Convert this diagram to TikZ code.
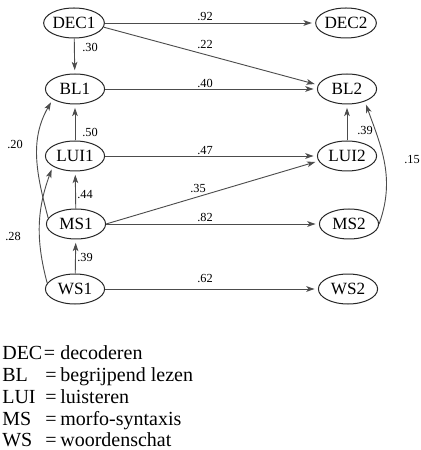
\documentclass[tikz,border=0pt]{standalone}
\usepackage{fontspec}
\setmainfont{Liberation Serif}
\usetikzlibrary{arrows.meta,shapes.geometric}
\begin{document}
\begin{tikzpicture}[x=0.6pt,y=0.6pt,
  var/.style={ellipse,draw=black!85,line width=0.6pt,minimum width=35.5pt,minimum height=18pt,inner sep=0pt,font=\fontsize{10.3}{11}\selectfont},
  pathline/.style={draw=black!70,line width=0.55pt,-{Stealth[length=5pt,width=3.4pt,inset=1.3pt]},shorten >=2pt},
  coef/.style={font=\fontsize{7.4}{8}\selectfont,inner sep=0pt},
  leg/.style={anchor=base west,inner sep=0pt,font=\fontsize{12}{13}\selectfont}]
\useasboundingbox (0,0) rectangle (420,-450);
% variables
\node[var] (DEC1) at (74,-23) {DEC1};
\node[var] (BL1)  at (75,-89) {BL1};
\node[var] (LUI1) at (75,-156) {LUI1};
\node[var] (MS1)  at (76,-224) {MS1};
\node[var] (WS1)  at (75,-289) {WS1};
\node[var] (DEC2) at (346,-23) {DEC2};
\node[var] (BL2)  at (347,-89) {BL2};
\node[var] (LUI2) at (347,-156) {LUI2};
\node[var] (MS2)  at (349,-224) {MS2};
\node[var] (WS2)  at (348,-289) {WS2};
% horizontal / diagonal paths
\draw[pathline] (DEC1) -- (DEC2);
\draw[pathline] (DEC1.-8) -- (BL2.172);
\draw[pathline] (BL1) -- (BL2);
\draw[pathline] (LUI1) -- (LUI2);
\draw[pathline] (MS1.east) -- (LUI2.190);
\draw[pathline] (MS1) -- (MS2);
\draw[pathline] (WS1) -- (WS2);
% vertical paths
\draw[pathline] (DEC1) -- (BL1);
\draw[pathline] (LUI1) -- (BL1);
\draw[pathline] (MS1) -- (LUI1);
\draw[pathline] (WS1) -- (MS1);
\draw[pathline] (LUI2) -- (BL2);
% curved paths
\draw[pathline] (MS1.168) to[out=105,in=240] (BL1.205);
\draw[pathline] (WS1.168) to[out=105,in=250] (LUI1.205);
\draw[pathline] (MS2.east) to[out=70,in=-70] (BL2.-35);
% coefficients
\node[coef] (c92) at (205,-17) {.92};
\node[coef] (c22) at (205,-45) {.22};
\node[coef] (c40) at (205,-83) {.40};
\node[coef] (c47) at (205,-151) {.47};
\node[coef] (c35) at (198,-189) {.35};
\node[coef] (c82) at (205,-217) {.82};
\node[coef] (c62) at (205,-279) {.62};
\node[coef] (c30) at (90,-47) {.30};
\node[coef] (c50) at (90,-132) {.50};
\node[coef] (c44) at (85,-195) {.44};
\node[coef] (c39a) at (85,-258) {.39};
\node[coef] (c39b) at (365,-131) {.39};
\node[coef] (c20) at (15,-144) {.20};
\node[coef] (c28) at (13,-236) {.28};
\node[coef] (c15) at (412,-160) {.15};
% legend
\node[leg] (legDEC) at (2,-359) {\makebox[25pt][l]{DEC}\makebox[9.8pt][l]{=}decoderen};
\node[leg] (legBL)  at (2,-381) {\makebox[25.8pt][l]{BL}\makebox[9pt][l]{=}begrijpend lezen};
\node[leg] (legLUI) at (2,-403) {\makebox[25.8pt][l]{LUI}\makebox[9pt][l]{=}luisteren};
\node[leg] (legMS)  at (2,-425) {\makebox[25.8pt][l]{MS}\makebox[9pt][l]{=}morfo-syntaxis};
\node[leg] (legWS)  at (2,-446) {\makebox[25.8pt][l]{WS}\makebox[9pt][l]{=}woordenschat};
\end{tikzpicture}
\end{document}
